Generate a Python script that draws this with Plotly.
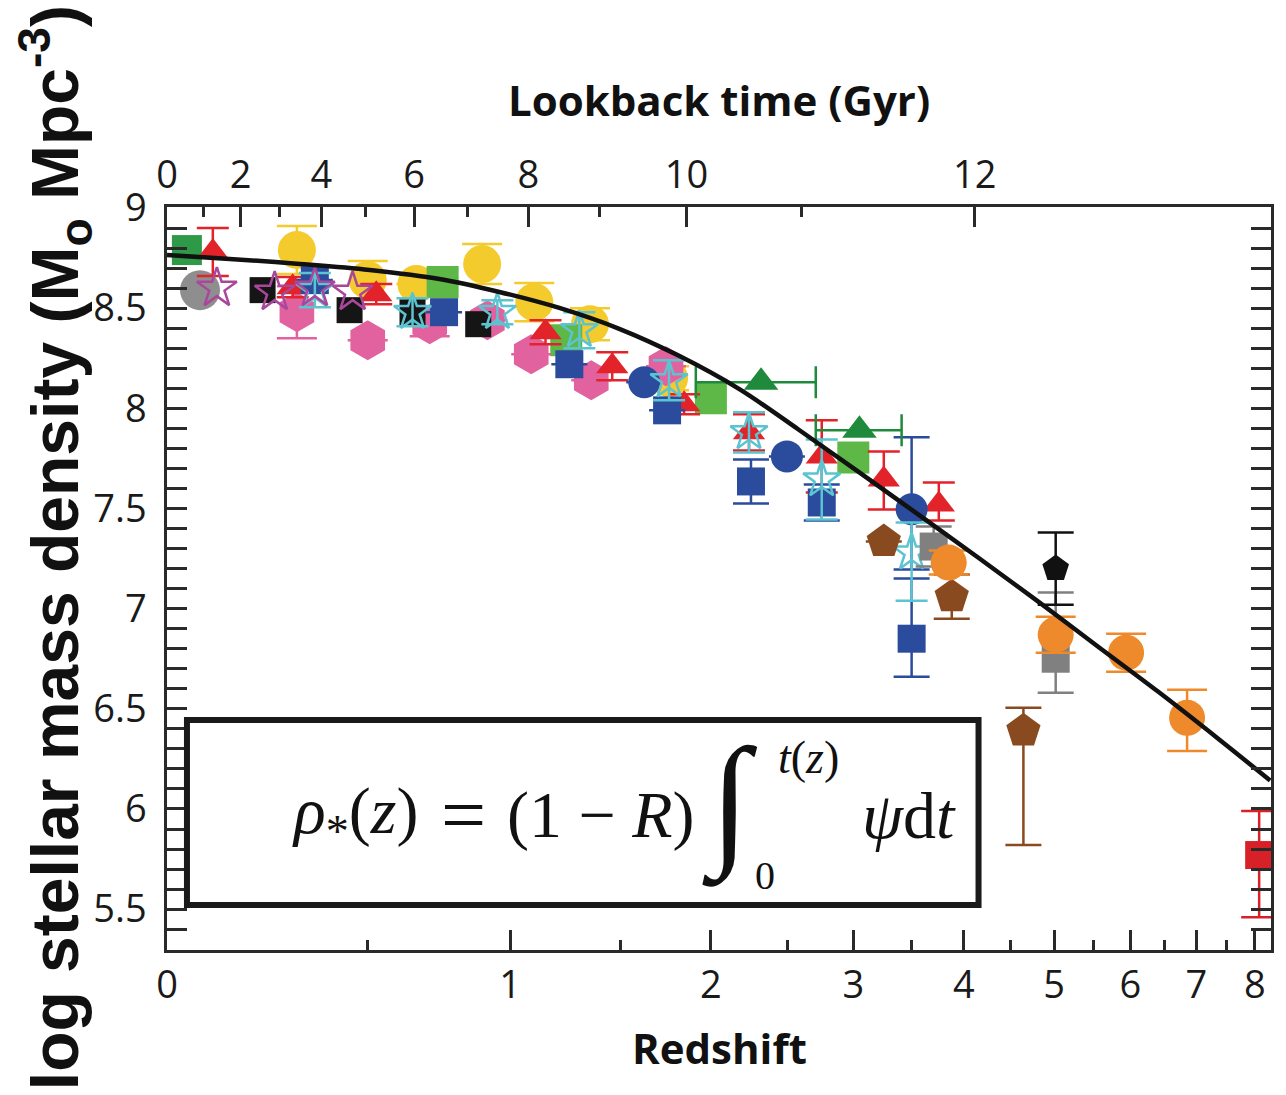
import numpy as np
import plotly.graph_objects as go

# ---------------- data ----------------
# model curve: integrated SFRD
curve_z = [0, 0.135, 0.308, 0.506, 0.734, 0.957, 1.209, 1.493, 1.813, 2.175, 2.583,
           3.043, 3.563, 4.150, 4.812, 5.559, 6.402, 7.354, 8.284]
curve_logrho = [8.766, 8.746, 8.721, 8.691, 8.646, 8.581, 8.501, 8.397, 8.262, 8.097, 7.893,
                7.683, 7.469, 7.254, 7.035, 6.810, 6.586, 6.352, 6.142]

# dark green square (local)
gsq0_z = [0.041]
gsq0_y = [8.79]

# light green squares
gsq_z = [0.745, 1.24, 2.0, 3.0]
gsq_y = [8.63, 8.34, 8.05, 7.755]

# gray circle
gci_z = [0.069]
gci_y = [8.59]

# yellow circles
yel_z = [0.30, 0.50, 0.655, 0.89, 1.10, 1.35, 1.757]
yel_y = [8.79, 8.64, 8.62, 8.72, 8.53, 8.42, 8.15]
yel_e = [0.12, 0.095, None, 0.10, 0.095, 0.08, 0.06]

# pink hexagons
pink_z = [0.30, 0.50, 0.70, 0.91, 1.087, 1.356, 1.74]
pink_y = [8.48, 8.34, 8.42, 8.44, 8.27, 8.14, 8.21]
pink_e = [0.13, None, 0.06, None, None, None, None]

# red triangles
red_z = [0.097, 0.289, 0.526, 1.148, 1.458, 1.842, 2.24, 2.753, 3.254, 3.754]
red_y = [8.78, 8.605, 8.57, 8.38, 8.21, 8.02, 7.88, 7.76, 7.645, 7.52]
red_ep = [0.12, 0.05, 0.05, 0.06, 0.07, 0.05, 0.09, 0.18, 0.14, 0.11]
red_em = [0.12, 0.05, 0.05, 0.06, 0.07, 0.05, 0.09, 0.18, 0.15, 0.08]

# black squares
blk_z = [0.213, 0.446, 0.642, 0.875]
blk_y = [8.59, 8.49, 8.48, 8.42]

# blue squares
bsq_z = [0.348, 0.75, 1.254, 1.746, 2.253, 2.753, 3.5]
bsq_y = [8.64, 8.48, 8.22, 7.99, 7.635, 7.53, 6.85]
bsq_ep = [None, None, None, None, 0.11, 0.09, 0.30]
bsq_em = [None, None, None, None, 0.11, 0.09, 0.19]

# blue circles
bci_z = [1.622, 2.498, 3.5]
bci_y = [8.13, 7.76, 7.496]
bci_ep = [None, None, 0.36]
bci_em = [None, None, 0.30]

# cyan stars
cyan_z = [0.348, 0.642, 0.949, 1.30, 1.757, 2.24, 2.753, 3.5]
cyan_y = [8.59, 8.48, 8.48, 8.39, 8.14, 7.88, 7.645, 7.28]
cyan_ep = [0.085, 0.07, 0.06, 0.09, 0.10, 0.10, 0.20, 0.15]
cyan_em = [0.085, 0.07, 0.06, 0.09, 0.10, 0.10, 0.20, 0.24]

# magenta open stars
mag_z = [0.106, 0.243, 0.348, 0.455]
mag_y = [8.60, 8.58, 8.60, 8.58]

# dark green triangles (with redshift-bin error bars)
dgt_z = [2.32, 3.05]
dgt_y = [8.13, 7.89]
dgt_zlo = [1.91, 2.708]
dgt_zhi = [2.708, 3.41]

# brown pentagons
brn_z = [3.254, 3.88, 4.64]
brn_y = [7.335, 7.06, 6.39]
brn_ep = [None, 0.11, 0.115]
brn_em = [None, 0.11, 0.57]

# gray squares
gsq2_z = [3.705, 5.02]
gsq2_y = [7.31, 6.75]
gsq2_ep = [0.10, 0.33]
gsq2_em = [0.10, 0.17]

# orange circles
org_z = [3.85, 5.02, 5.94, 6.85]
org_y = [7.23, 6.87, 6.78, 6.455]
org_ep = [0.06, 0.09, 0.095, 0.14]
org_em = [0.06, 0.09, 0.095, 0.165]

# black pentagon
bpt_z = [5.02]
bpt_y = [7.20]
bpt_e = [0.18]

# red square
rsq_z = [8.08]
rsq_y = [5.77]
rsq_ep = [0.22]
rsq_em = [0.31]

# axis ticks
z_ticks = [0, 1, 2, 3, 4, 5, 6, 7, 8]
z_minor = [0.5, 1.5, 2.5, 3.5, 4.5, 5.5, 6.5, 7.5]
lb_ticks = [0, 2, 4, 6, 8, 10, 12]
lb_minor = [1, 3, 5, 7, 9, 11]
y_ticks = [5.5, 6, 6.5, 7, 7.5, 8, 8.5, 9]

# ---------------- lookback time -> redshift (flat LCDM, H0=70, Om=0.3) ----------------
H0, Om, OL = 70.0, 0.3, 0.7
A = 2.0 / (3.0 * np.sqrt(OL)) * 977.8 / H0
t0 = A * np.arcsinh(np.sqrt(OL / Om))


def z_of_lb(tlb):
    t = t0 - tlb
    return float((np.sinh(t / A) / np.sqrt(OL / Om)) ** (-2.0 / 3.0) - 1.0)


def opz(zs):
    return [1.0 + v for v in zs]


fig = go.Figure()


def add_series(z, y, color, symbol, size, ep=None, em=None, cap=16, open_=False, lw=2.5):
    if open_:
        marker = dict(color=color, symbol=symbol + '-open', size=size,
                      line=dict(width=lw, color=color))
    else:
        marker = dict(color=color, symbol=symbol, size=size, line=dict(width=0))
    err = None
    if ep is not None:
        err = dict(type='data', symmetric=False, array=ep,
                   arrayminus=em if em is not None else ep,
                   color=color, thickness=2.5, width=cap)
    fig.add_trace(go.Scatter(x=opz(z), y=y, mode='markers', marker=marker,
                             error_y=err, showlegend=False, hoverinfo='skip'))


GREEN_D = '#2E9A48'
GREEN_L = '#5DB847'
add_series(gsq0_z, gsq0_y, GREEN_D, 'square', 30)
add_series(gci_z, gci_y, '#8E8E8E', 'circle', 40)
add_series(yel_z, yel_y, '#F4CB2C', 'circle', 38, yel_e, yel_e, cap=20)
add_series(gsq_z, gsq_y, GREEN_L, 'square', 32)
add_series(pink_z, pink_y, '#E2629F', 'hexagon', 40, pink_e, pink_e, cap=20)
add_series(red_z, red_y, '#E2232A', 'triangle-up', 28, red_ep, red_em, cap=16)
add_series(blk_z, blk_y, '#151515', 'square', 26)
add_series(bsq_z, bsq_y, '#2B4C9C', 'square', 28, bsq_ep, bsq_em, cap=18)
add_series(bci_z, bci_y, '#2B4C9C', 'circle', 32, bci_ep, bci_em, cap=18)
add_series(cyan_z, cyan_y, '#5CC3D0', 'star', 28, cyan_ep, cyan_em, cap=16, open_=True)
add_series(mag_z, mag_y, '#A9479C', 'star', 30, open_=True)

# dark green triangles with horizontal bins
fig.add_trace(go.Scatter(
    x=opz(dgt_z), y=dgt_y, mode='markers',
    marker=dict(color='#208A3C', symbol='triangle-up', size=30, line=dict(width=0)),
    error_x=dict(type='data', symmetric=False,
                 array=[h - c for h, c in zip(dgt_zhi, dgt_z)],
                 arrayminus=[c - l for l, c in zip(dgt_zlo, dgt_z)],
                 color='#208A3C', thickness=2.5, width=16),
    showlegend=False, hoverinfo='skip'))

add_series(brn_z, brn_y, '#8A4A20', 'pentagon', 36, brn_ep, brn_em, cap=18)
add_series(gsq2_z, gsq2_y, '#808080', 'square', 28, gsq2_ep, gsq2_em, cap=18)
add_series(org_z, org_y, '#EE8A2B', 'circle', 36, org_ep, org_em, cap=20)
add_series(bpt_z, bpt_y, '#111111', 'pentagon', 28, bpt_e, bpt_e, cap=18)
add_series(rsq_z, rsq_y, '#D72027', 'square', 28, rsq_ep, rsq_em, cap=18)

# model curve (on top)
fig.add_trace(go.Scatter(x=opz(curve_z), y=curve_logrho, mode='lines',
                         line=dict(color='#111111', width=4.5, shape='spline', smoothing=1.0),
                         showlegend=False, hoverinfo='skip'))

# invisible trace to activate the top axis
fig.add_trace(go.Scatter(x=[1.0], y=[7.0], xaxis='x2', mode='markers',
                         marker=dict(opacity=0), showlegend=False, hoverinfo='skip'))

# ---------------- layout ----------------
W, H = 1286, 1095
L, R, T, B = 167, 13, 207, 145
PW, PH = W - L - R, H - T - B


def px(xp):
    return (xp - L) / PW


def py(yp):
    return (H - B - yp) / PH


XR = [0, (1273 - 167) / 1142.0]
AX = '#2a2a2a'
TICKFONT = dict(family='Open Sans, Arial, sans-serif', size=38, color='#1a1a1a')

fig.update_layout(
    width=W, height=H, margin=dict(l=L, r=R, t=T, b=B, pad=0),
    paper_bgcolor='white', plot_bgcolor='white',
    xaxis=dict(type='log', range=XR, tickmode='array', tickvals=opz(z_ticks),
               ticktext=[str(v) for v in z_ticks], ticks='inside', ticklen=20,
               tickwidth=2.5, tickcolor=AX, showline=True, linecolor=AX, linewidth=2.5,
               mirror=False, showgrid=False, zeroline=False, tickfont=TICKFONT,
               ticklabelstandoff=0,
               minor=dict(tickmode='array', tickvals=opz(z_minor), ticks='inside',
                          ticklen=10, tickwidth=2.5, tickcolor=AX, showgrid=False)),
    xaxis2=dict(type='log', range=XR, overlaying='x', side='top', tickmode='array',
                tickvals=[1.0 + z_of_lb(t) for t in lb_ticks],
                ticktext=[str(t) for t in lb_ticks], ticks='inside', ticklen=20,
                tickwidth=2.5, tickcolor=AX, showline=True, linecolor=AX, linewidth=2.5,
                showgrid=False, zeroline=False, tickfont=TICKFONT, ticklabelstandoff=1,
                minor=dict(tickmode='array', tickvals=[1.0 + z_of_lb(t) for t in lb_minor],
                           ticks='inside', ticklen=10, tickwidth=2.5, tickcolor=AX,
                           showgrid=False)),
    yaxis=dict(range=[5.296, 9.005], tickmode='array', tickvals=y_ticks,
               ticktext=[('%g' % v) for v in y_ticks], ticks='inside', ticklen=20,
               tickwidth=2.5, tickcolor=AX, showline=True, linecolor=AX, linewidth=2.5,
               mirror='allticks', showgrid=False, zeroline=False, tickfont=TICKFONT,
               ticklabelstandoff=10,
               minor=dict(dtick=0.1, ticks='inside', ticklen=9, tickwidth=2.5,
                          tickcolor=AX, showgrid=False)),
)

# formula box
fig.add_shape(type='rect', xref='paper', yref='paper', x0=px(187), x1=px(980),
              y0=py(905), y1=py(720), line=dict(color='#1a1a1a', width=6),
              fillcolor='white', layer='above')

SERIF = 'Liberation Serif, Times New Roman, serif'
ann = []


def add_text(text, xp, yp, size, family, color='#111111', angle=0, xanchor='center'):
    ann.append(dict(text=text, x=px(xp), y=py(yp), xref='paper', yref='paper',
                    showarrow=False, xanchor=xanchor, yanchor='middle', textangle=angle,
                    font=dict(family=family, size=size, color=color)))


add_text('<i>ρ</i><sub>*</sub>(<i>z</i>)', 355, 815, 66, SERIF)
add_text('=', 464, 815, 80, SERIF)
add_text('(1 − <i>R</i>)', 602, 815, 66, SERIF)
add_text('∫', 731, 803, 145, SERIF)
add_text('<i>t</i>(<i>z</i>)', 810, 757, 46, SERIF)
add_text('0', 766, 875, 40, SERIF)
add_text('<i>ψ</i>d<i>t</i>', 910, 815, 66, SERIF)

TITLEFONT = 'Open Sans, Arial, sans-serif'
add_text('<b>Lookback time (Gyr)</b>', 720, 100, 42, TITLEFONT)
add_text('<b>Redshift</b>', 720, 1047, 42, TITLEFONT)
add_text('<b>log stellar mass density (M<sub>o</sub> Mpc<sup>-3</sup>)</b>', 55, 548, 66,
         'Liberation Sans, Arial, sans-serif', angle=-90)

fig.update_layout(annotations=ann)

fig.write_html('out.html')
